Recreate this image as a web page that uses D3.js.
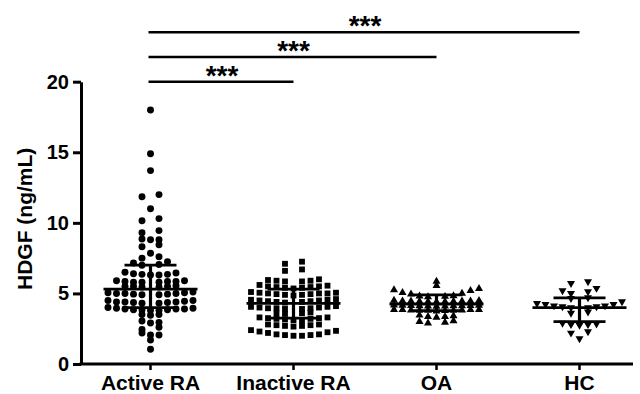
<!DOCTYPE html>
<html>
<head>
<meta charset="utf-8">
<script src="https://cdn.jsdelivr.net/npm/d3@7"></script>
<style>
  body { margin: 0; background: #fff; }
  svg text { font-family: "Liberation Sans", Arial, sans-serif; font-weight: bold; fill: #000; }
</style>
</head>
<body>
<div id="chart"></div>
<script>
// values (ng/mL)
const groups = ['Active RA', 'Inactive RA', 'OA', 'HC'];

const activeRA = [1.05, 1.7, 2.05, 2.05, 2.2, 2.45, 2.6, 2.9, 2.95, 3.05, 3.45, 3.5, 3.5,
  3.8, 3.8, 3.85, 3.85, 3.85, 3.9, 3.9, 3.9, 3.95, 3.95, 4.0,
  4.3, 4.3, 4.35, 4.35, 4.4, 4.4, 4.4, 4.45, 4.5, 4.5,
  4.9, 4.9, 4.95, 4.95, 5.0, 5.0, 5.0, 5.05, 5.05, 5.1,
  5.45, 5.45, 5.5, 5.5, 5.5, 5.55,
  5.8, 5.8, 5.8, 5.85, 5.85, 5.85, 5.9, 5.9,
  6.3, 6.3, 6.35, 6.35, 6.4, 6.45, 6.5,
  7.0, 7.05, 7.15, 7.25, 7.5, 7.6, 7.85, 8.3, 8.45, 8.8, 8.8, 8.85,
  9.3, 9.45, 10.15, 10.3, 11.0, 11.85, 12.0, 13.7, 14.9, 18.0];

const inactiveRA = [2.0, 2.0, 2.05, 2.05, 2.1, 2.1, 2.2, 2.25, 2.3, 2.35, 2.4,
  2.65, 2.7, 2.7, 2.75, 2.75, 2.8, 2.8,
  3.1, 3.1, 3.15, 3.2, 3.2, 3.25, 3.25, 3.3, 3.3,
  3.55, 3.6, 3.6, 3.65,
  3.9, 3.9, 3.95, 3.95, 3.95, 4.0, 4.0, 4.05, 4.05, 4.1,
  4.35, 4.4, 4.4, 4.45, 4.45, 4.5, 4.5, 4.55, 4.55, 4.6,
  4.85, 4.9, 4.9, 4.95, 4.95, 5.0, 5.0, 5.0, 5.05, 5.05, 5.1,
  5.35, 5.4, 5.4, 5.45, 5.45, 5.5, 5.5, 5.55, 5.6,
  5.85, 5.85, 5.9, 5.9, 5.95, 6.0,
  6.6, 6.7, 7.1, 7.25];

const oa = [2.9, 2.95, 3.0, 3.05,
  3.3, 3.35, 3.35, 3.4, 3.45,
  3.75, 3.78, 3.8, 3.8, 3.8, 3.82, 3.82, 3.84, 3.84, 3.85, 3.85,
  4.08, 4.1, 4.1, 4.12, 4.12, 4.12, 4.14, 4.14, 4.15, 4.15, 4.16,
  4.4, 4.42, 4.42, 4.44, 4.44, 4.45, 4.45, 4.46, 4.46, 4.48, 4.5,
  4.75, 4.78, 4.8, 4.82, 4.95, 5.0, 5.06, 5.2, 5.25, 5.34,
  5.55, 5.85];

const hc = [1.8, 2.2, 2.3, 2.75, 2.8, 2.8, 2.85, 2.9, 3.6, 3.7,
  4.0, 4.0, 4.06, 4.06, 4.13, 4.13, 4.23, 4.23, 4.3, 4.42,
  4.65, 4.7, 5.0, 5.13, 5.2, 5.37, 5.72, 5.84];

// median and interquartile range as drawn
const medians = [5.3, 4.3, 4.25, 4.0];
const q1 = [4.0, 3.25, 3.78, 3.0];
const q3 = [7.0, 5.3, 4.9, 4.68];

// significance brackets
const sigFrom = ['Active RA', 'Active RA', 'Active RA'];
const sigTo = ['Inactive RA', 'OA', 'HC'];
const sigLevel = [20, 21.75, 23.5];
const sigLabel = ['***', '***', '***'];

const yTicks = [0, 5, 10, 15, 20];

const width = 640, height = 394;
const plotLeft = 81, plotRight = 633, plotTop = 81.7, plotBottom = 364;

const svg = d3.select('#chart').append('svg')
  .attr('width', width)
  .attr('height', height);

const x = d3.scaleBand().domain(groups).range([79, 651]);
const y = d3.scaleLinear().domain([0, 20]).range([plotBottom, plotTop]);
const cx = g => x(g) + x.bandwidth() / 2;

// dot-plot layout: close values form a row, spread sideways from the centre
const step = 8.5, rowGap = 0.195;
function layout(values) {
  const s = values.slice().sort(d3.ascending);
  const rows = [];
  let cur = [];
  s.forEach((v, i) => {
    if (i && v - s[i - 1] >= rowGap) { rows.push(cur); cur = []; }
    cur.push(v);
  });
  rows.push(cur);
  const out = [];
  rows.forEach(r => {
    const odd = r.length % 2 === 1;
    r.forEach((v, k) => {
      let slot;
      if (odd) slot = k === 0 ? 0 : (k % 2 ? (k + 1) / 2 : -k / 2);
      else slot = k % 2 ? (k + 1) / 2 : -(k / 2 + 1);
      out.push({ v, slot });
    });
  });
  return out;
}

const series = [activeRA, inactiveRA, oa, hc];
const shapes = [d3.symbolCircle, d3.symbolSquare, d3.symbolTriangle, d3.symbolTriangle];
const sizes = [38, 34, 28, 28];
const rotation = [0, 0, 0, 180];

series.forEach((vals, i) => {
  const g = groups[i];
  const sym = d3.symbol().type(shapes[i]).size(sizes[i]);
  svg.append('g')
    .selectAll('path')
    .data(layout(vals))
    .join('path')
    .attr('d', sym)
    .attr('fill', '#000')
    .attr('transform', d => `translate(${cx(g) + d.slot * step},${y(d.v)}) rotate(${rotation[i]})`);
});

// median line and IQR whiskers
const stats = svg.append('g').attr('stroke', '#000');
groups.forEach((g, i) => {
  const c = cx(g);
  stats.append('line')
    .attr('x1', c - 47).attr('x2', c + 47)
    .attr('y1', y(medians[i])).attr('y2', y(medians[i]))
    .attr('stroke-width', 2.8);
  stats.append('line')
    .attr('x1', c).attr('x2', c)
    .attr('y1', y(q1[i])).attr('y2', y(q3[i]))
    .attr('stroke-width', 3.2);
  [q1[i], q3[i]].forEach(q => {
    stats.append('line')
      .attr('x1', c - 26).attr('x2', c + 26)
      .attr('y1', y(q)).attr('y2', y(q))
      .attr('stroke-width', 2.8);
  });
});

// axes
const yAxis = svg.append('g')
  .attr('transform', `translate(${plotLeft},0)`)
  .call(d3.axisLeft(y).tickValues(yTicks).tickSize(8).tickSizeOuter(0).tickPadding(4));
yAxis.selectAll('text').style('font-size', '20px');
yAxis.selectAll('line').attr('stroke-width', 3);
yAxis.select('.domain').attr('stroke-width', 3);

const xAxis = svg.append('g')
  .attr('transform', `translate(0,${plotBottom})`)
  .call(d3.axisBottom(x).tickSize(6).tickPadding(5));
xAxis.select('.domain').remove();
xAxis.selectAll('text').style('font-size', '21px');
xAxis.selectAll('line').attr('stroke-width', 2.5);
xAxis.append('line')
  .attr('x1', plotLeft - 1.5).attr('x2', plotRight)
  .attr('stroke', '#000')
  .attr('stroke-width', 3);

svg.append('text')
  .attr('transform', `translate(32,${(plotTop + plotBottom) / 2 - 4}) rotate(-90)`)
  .attr('text-anchor', 'middle')
  .style('font-size', '21px')
  .text('HDGF (ng/mL)');

// significance brackets
sigLevel.forEach((lv, i) => {
  const x1 = cx(sigFrom[i]), x2 = cx(sigTo[i]);
  svg.append('line')
    .attr('x1', x1 - 2).attr('x2', x2)
    .attr('y1', y(lv)).attr('y2', y(lv))
    .attr('stroke', '#000')
    .attr('stroke-width', 2.5);
  svg.append('text')
    .attr('x', (x1 + x2) / 2)
    .attr('y', y(lv) + 3)
    .attr('text-anchor', 'middle')
    .style('font-size', '28px')
    .text(sigLabel[i]);
});
</script>
</body>
</html>
